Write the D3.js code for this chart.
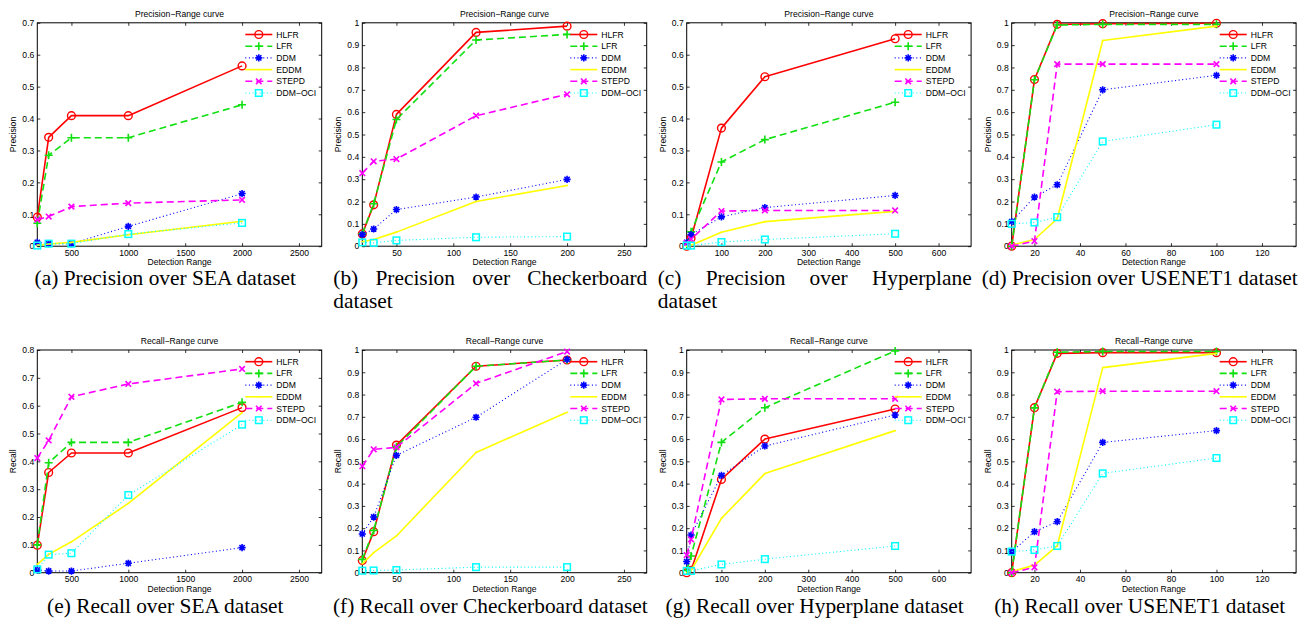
<!DOCTYPE html>
<html>
<head>
<meta charset="utf-8">
<script src="https://cdn.jsdelivr.net/npm/d3@7"></script>
<style>
  body { margin: 0; background: #fff; }
  svg { display: block; }
  .ax text, .lbl { font-family: "Liberation Sans", Arial, sans-serif; }
  .cap { font-family: "Liberation Serif", "Times New Roman", serif; }
</style>
</head>
<body>
<svg id="fig" width="1307" height="618"></svg>
<script>
// Detection methods, in plotting order
const methods = ["HLFR", "LFR", "DDM", "EDDM", "STEPD", "DDM−OCI"];

// Detection ranges evaluated for each dataset
const seaRange     = [200, 300, 500, 1000, 2000];
const checkerRange = [20, 30, 50, 120, 200];
const hyperRange   = [20, 30, 100, 200, 500];
const usenetRange  = [10, 20, 30, 50, 100];

// Axis extents and tick values
const seaDomain     = [200, 2700];
const checkerDomain = [20, 270];
const hyperDomain   = [20, 675];
const usenetDomain  = [10, 135];
const seaTicks     = [500, 1000, 1500, 2000, 2500];
const checkerTicks = [50, 100, 150, 200, 250];
const hyperTicks   = [100, 200, 300, 400, 500, 600];
const usenetTicks  = [20, 40, 60, 80, 100, 120];

// Precision per method (rows follow `methods`)
const precisionSEA = [
  [0.091, 0.341, 0.409, 0.409, 0.565],
  [0.072, 0.285, 0.340, 0.340, 0.443],
  [0.012, 0.008, 0.008, 0.062, 0.165],
  [0.003, 0.007, 0.012, 0.036, 0.078],
  [0.083, 0.093, 0.124, 0.135, 0.145],
  [0.002, 0.008, 0.008, 0.038, 0.073]
];
const precisionChecker = [
  [0.055, 0.185, 0.590, 0.957, 0.985],
  [0.055, 0.190, 0.567, 0.923, 0.948],
  [0.052, 0.077, 0.164, 0.220, 0.299],
  [0.020, 0.030, 0.063, 0.200, 0.272],
  [0.327, 0.380, 0.390, 0.584, 0.680],
  [0.017, 0.015, 0.026, 0.040, 0.043]
];
const precisionHyper = [
  [0.000, 0.025, 0.370, 0.531, 0.650],
  [0.005, 0.045, 0.264, 0.334, 0.451],
  [0.012, 0.036, 0.092, 0.121, 0.159],
  [0.000, 0.003, 0.044, 0.077, 0.109],
  [0.010, 0.022, 0.110, 0.112, 0.112],
  [0.002, 0.002, 0.013, 0.021, 0.039]
];
const precisionUsenet = [
  [0.000, 0.746, 0.993, 0.996, 0.998],
  [0.000, 0.745, 0.990, 0.993, 0.993],
  [0.110, 0.220, 0.275, 0.700, 0.765],
  [0.005, 0.030, 0.123, 0.921, 0.985],
  [0.000, 0.023, 0.815, 0.815, 0.815],
  [0.100, 0.106, 0.130, 0.469, 0.544]
];

// Recall per method (rows follow `methods`)
const recallSEA = [
  [0.099, 0.360, 0.430, 0.430, 0.593],
  [0.100, 0.395, 0.468, 0.468, 0.612],
  [0.010, 0.006, 0.006, 0.034, 0.090],
  [0.030, 0.066, 0.111, 0.249, 0.575],
  [0.412, 0.475, 0.632, 0.678, 0.732],
  [0.012, 0.065, 0.070, 0.279, 0.532]
];
const recallChecker = [
  [0.055, 0.184, 0.573, 0.927, 0.955],
  [0.060, 0.190, 0.565, 0.927, 0.955],
  [0.174, 0.250, 0.527, 0.698, 0.958],
  [0.040, 0.090, 0.165, 0.540, 0.720],
  [0.478, 0.554, 0.563, 0.850, 0.993],
  [0.009, 0.010, 0.012, 0.025, 0.025]
];
const recallHyper = [
  [0.000, 0.010, 0.419, 0.600, 0.735],
  [0.010, 0.075, 0.585, 0.741, 0.996],
  [0.050, 0.169, 0.437, 0.569, 0.708],
  [0.000, 0.010, 0.244, 0.445, 0.638],
  [0.079, 0.150, 0.778, 0.781, 0.781],
  [0.008, 0.008, 0.037, 0.061, 0.120]
];
const recallUsenet = [
  [0.000, 0.741, 0.985, 0.988, 0.988],
  [0.000, 0.740, 0.990, 0.993, 0.993],
  [0.094, 0.184, 0.229, 0.585, 0.638],
  [0.005, 0.034, 0.120, 0.921, 0.985],
  [0.000, 0.024, 0.813, 0.815, 0.815],
  [0.095, 0.102, 0.120, 0.446, 0.515]
];

// Sub-figure captions (one entry per printed line)
const captions = [
  ["(a) Precision over SEA dataset"],
  ["(b) Precision over Checkerboard", "dataset"],
  ["(c) Precision over Hyperplane", "dataset"],
  ["(d) Precision over USENET1 dataset"],
  ["(e) Recall over SEA dataset"],
  ["(f) Recall over Checkerboard dataset"],
  ["(g) Recall over Hyperplane dataset"],
  ["(h) Recall over USENET1 dataset"]
];

// Line and marker style per method
const styles = [
  { color: "#ff0000", dash: null,      width: 1.6, marker: "circle" },
  { color: "#11e011", dash: "7,4",     width: 1.6, marker: "plus" },
  { color: "#0000ff", dash: "1,2.6",   width: 1.1, marker: "star" },
  { color: "#ffff00", dash: null,      width: 1.6, marker: "dot" },
  { color: "#ff00ff", dash: "7,4",     width: 1.6, marker: "cross" },
  { color: "#00ffff", dash: "1,2.6",   width: 1.1, marker: "square" }
];

const panels = [
  { row: 0, col: 0, xs: seaRange,     dom: seaDomain,     ticks: seaTicks,     yMax: 0.7, data: precisionSEA,     metric: "Precision" },
  { row: 0, col: 1, xs: checkerRange, dom: checkerDomain, ticks: checkerTicks, yMax: 1.0, data: precisionChecker, metric: "Precision" },
  { row: 0, col: 2, xs: hyperRange,   dom: hyperDomain,   ticks: hyperTicks,   yMax: 0.7, data: precisionHyper,   metric: "Precision" },
  { row: 0, col: 3, xs: usenetRange,  dom: usenetDomain,  ticks: usenetTicks,  yMax: 1.0, data: precisionUsenet,  metric: "Precision" },
  { row: 1, col: 0, xs: seaRange,     dom: seaDomain,     ticks: seaTicks,     yMax: 0.8, data: recallSEA,        metric: "Recall" },
  { row: 1, col: 1, xs: checkerRange, dom: checkerDomain, ticks: checkerTicks, yMax: 1.0, data: recallChecker,    metric: "Recall" },
  { row: 1, col: 2, xs: hyperRange,   dom: hyperDomain,   ticks: hyperTicks,   yMax: 1.0, data: recallHyper,      metric: "Recall" },
  { row: 1, col: 3, xs: usenetRange,  dom: usenetDomain,  ticks: usenetTicks,  yMax: 1.0, data: recallUsenet,     metric: "Recall" }
];

const svg = d3.select("#fig");
const W = 284.4;
const lefts = [37.3, 362.3, 686.7, 1011.7];
const tops = [22.8, 350];
const heights = [223.4, 222.7];
const capBase = [285, 613];
const capSize = 21.4;
const FS = 8.6;

function drawMarker(g, type, color) {
  if (type === "circle") {
    g.append("circle").attr("r", 3.9).attr("fill", "none").attr("stroke", color).attr("stroke-width", 1.4);
  } else if (type === "plus") {
    g.append("path").attr("d", "M-4,0H4M0,-4V4").attr("stroke", color).attr("stroke-width", 1.6);
  } else if (type === "star") {
    g.append("path").attr("d", "M-3.6,0H3.6M0,-3.6V3.6M-2.6,-2.6L2.6,2.6M-2.6,2.6L2.6,-2.6")
      .attr("stroke", color).attr("stroke-width", 1.6);
  } else if (type === "cross") {
    g.append("path").attr("d", "M-2.8,-2.8L2.8,2.8M-2.8,2.8L2.8,-2.8").attr("stroke", color).attr("stroke-width", 1.6);
  } else if (type === "square") {
    g.append("rect").attr("x", -3.3).attr("y", -3.3).attr("width", 6.6).attr("height", 6.6)
      .attr("fill", "none").attr("stroke", color).attr("stroke-width", 1.5);
  } else if (type === "dot") {
    g.append("circle").attr("r", 0.9).attr("fill", color);
  }
}

const fmtY = d => String(+d.toFixed(1));

panels.forEach((p, idx) => {
  const left = lefts[p.col], top = tops[p.row], H = heights[p.row];
  const x = d3.scaleLinear().domain(p.dom).range([left, left + W]);
  const y = d3.scaleLinear().domain([0, p.yMax]).range([top + H, top]);
  const yTicks = d3.range(0, Math.round(p.yMax * 10) + 1).map(k => k / 10);
  const g = svg.append("g");

  // axes: inward ticks on all four sides
  const axB = g.append("g").attr("class", "ax").attr("transform", `translate(0,${top + H})`)
    .call(d3.axisBottom(x).tickValues(p.ticks).tickSize(-3).tickPadding(3.6).tickFormat(d3.format("d")));
  const axT = g.append("g").attr("class", "ax").attr("transform", `translate(0,${top})`)
    .call(d3.axisTop(x).tickValues(p.ticks).tickSize(-3).tickFormat(""));
  const axL = g.append("g").attr("class", "ax").attr("transform", `translate(${left},0)`)
    .call(d3.axisLeft(y).tickValues(yTicks).tickSize(-3).tickPadding(3).tickFormat(fmtY));
  const axR = g.append("g").attr("class", "ax").attr("transform", `translate(${left + W},0)`)
    .call(d3.axisRight(y).tickValues(yTicks).tickSize(-3).tickFormat(""));
  [axB, axT, axL, axR].forEach(a => {
    a.select(".domain").remove();
    a.selectAll("line").attr("stroke", "#000").attr("stroke-width", 0.8);
    a.selectAll("text").attr("font-size", FS).attr("fill", "#000");
  });
  g.append("rect").attr("x", left).attr("y", top).attr("width", W).attr("height", H)
    .attr("fill", "none").attr("stroke", "#000").attr("stroke-width", 1);

  // labels
  g.append("text").attr("class", "lbl").attr("x", left + W / 2).attr("y", top - 6)
    .attr("text-anchor", "middle").attr("font-size", FS).text(p.metric + "−Range curve");
  g.append("text").attr("class", "lbl").attr("x", left + W / 2).attr("y", top + H + 19.2)
    .attr("text-anchor", "middle").attr("font-size", FS).text("Detection Range");
  g.append("text").attr("class", "lbl")
    .attr("transform", `translate(${left - 21},${top + H / 2}) rotate(-90)`)
    .attr("text-anchor", "middle").attr("font-size", FS).text(p.metric);

  // series
  const plot = g.append("g");
  p.data.forEach((vals, si) => {
    const st = styles[si];
    const pts = vals.map((v, i) => [p.xs[i], v]);
    plot.append("path").datum(pts)
      .attr("d", d3.line().x(d => x(d[0])).y(d => y(d[1])))
      .attr("fill", "none").attr("stroke", st.color).attr("stroke-width", st.width)
      .attr("stroke-dasharray", st.dash).attr("stroke-linejoin", "round");
    pts.forEach(d => {
      const m = plot.append("g").attr("transform", `translate(${x(d[0])},${y(d[1])})`);
      drawMarker(m, st.marker, st.color);
    });
  });

  // legend (no frame)
  const lg = g.append("g");
  methods.forEach((name, si) => {
    const st = styles[si];
    const ly = top + 11.7 + si * 11.7;
    lg.append("line").attr("x1", left + 208).attr("x2", left + 235).attr("y1", ly).attr("y2", ly)
      .attr("stroke", st.color).attr("stroke-width", st.width).attr("stroke-dasharray", st.dash);
    drawMarker(lg.append("g").attr("transform", `translate(${left + 221.5},${ly})`), st.marker, st.color);
    lg.append("text").attr("class", "lbl").attr("x", left + 239).attr("y", ly).attr("dy", "0.35em")
      .attr("font-size", FS).text(name);
  });

  // caption: single lines centred, wrapped first lines justified
  const colL = left - 29, colW = 314;
  const lines = captions[idx];
  lines.forEach((ln, li) => {
    const by = capBase[p.row] + li * 23;
    if (lines.length === 1) {
      g.append("text").attr("class", "cap").attr("x", colL + colW / 2).attr("y", by)
        .attr("text-anchor", "middle").attr("font-size", capSize).text(ln);
    } else if (li < lines.length - 1) {
      const words = ln.split(" ");
      const nodes = words.map(w => g.append("text").attr("class", "cap").attr("y", by)
        .attr("font-size", capSize).text(w));
      const widths = nodes.map(n => n.node().getComputedTextLength());
      const gap = (colW - d3.sum(widths)) / (words.length - 1);
      let cx = colL;
      nodes.forEach((n, k) => { n.attr("x", cx); cx += widths[k] + gap; });
    } else {
      g.append("text").attr("class", "cap").attr("x", colL).attr("y", by)
        .attr("font-size", capSize).text(ln);
    }
  });
});
</script>
</body>
</html>
